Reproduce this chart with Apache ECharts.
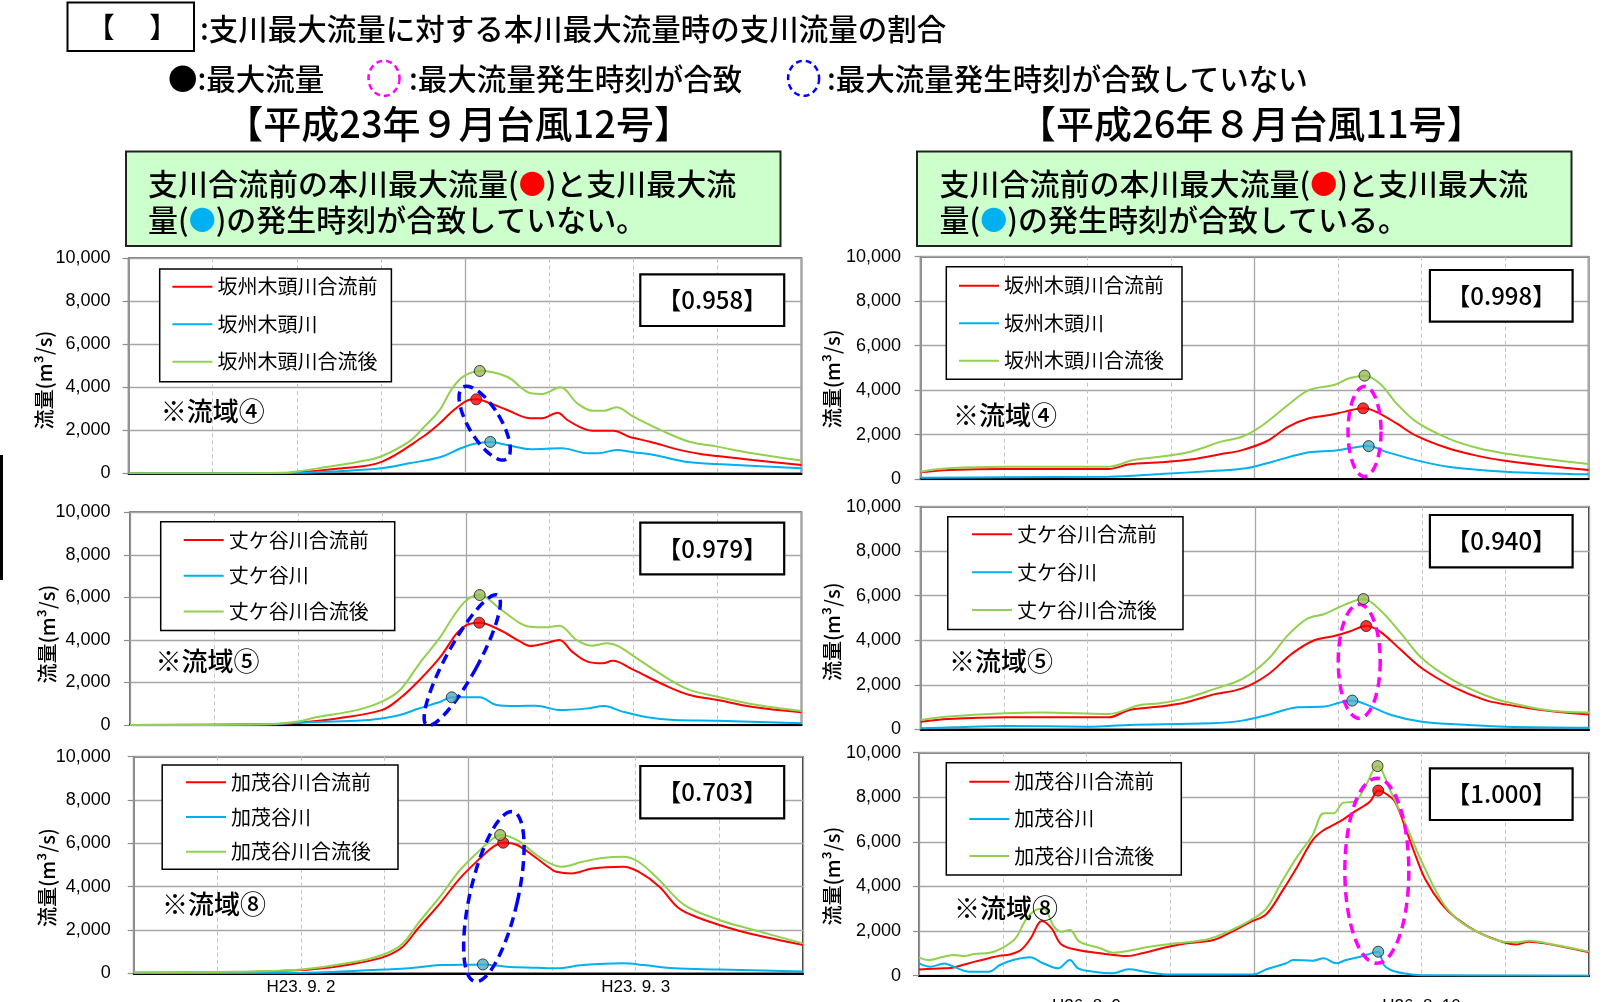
<!DOCTYPE html>
<html><head><meta charset="utf-8">
<script src="https://cdn.jsdelivr.net/npm/echarts@6/dist/echarts.min.js"></script>
<style>html,body{margin:0;padding:0;background:#fff}#c{width:1605px;height:1002px}</style>
</head><body><div id="c"></div><script>
// ---------------- DATA ----------------
const yTicks = [0, 2000, 4000, 6000, 8000, 10000];
const xLabelsH23 = {12: 'H23. 9. 2', 36: 'H23. 9. 3'};
const xLabelsH26 = {12: 'H26. 8. 9', 36: 'H26. 8. 10'};
const namesP4 = ['坂州木頭川合流前', '坂州木頭川', '坂州木頭川合流後'];
const namesP5 = ['丈ケ谷川合流前', '丈ケ谷川', '丈ケ谷川合流後'];
const namesP8 = ['加茂谷川合流前', '加茂谷川', '加茂谷川合流後'];
const ratios = ['0.958', '0.979', '0.703', '0.998', '0.940', '1.000'];
const areaLabels = ['※流域④', '※流域⑤', '※流域⑧', '※流域④', '※流域⑤', '※流域⑧'];

// [hour from left edge, m3/s]
const h23p4Before = [[0,0],[6,0],[10,10],[12,40],[15,220],[18,520],[21,1700],[22.2,2330],[23.2,2940],[24.15,3380],[24.8,3440],[25.8,3256],[27,2944],[28.7,2558],[29.5,2560],[30.6,2820],[31.3,2480],[32.4,2090],[33.1,1980],[34.6,1980],[35.7,1700],[37.2,1470],[39.3,1090],[40.8,900],[42,800],[44.5,620],[48,390]];
const h23p4Trib = [[0,0],[12,20],[15,100],[18,230],[20,465],[22.2,744],[23.7,1163],[24.6,1363],[25.8,1460],[27,1316],[28.7,1116],[30.9,1160],[32.8,930],[33.5,930],[34.8,1085],[36,980],[37.5,850],[39.7,540],[42,430],[48,230]];
const h23p4After = [[0,0],[6,0],[11,20],[12,80],[14,280],[16.4,540],[18,780],[20,1470],[21,2100],[22.2,2950],[23,3870],[23.7,4420],[24.3,4650],[25.05,4760],[27,4490],[28.7,3720],[29.5,3690],[30.8,4000],[32,3260],[33.1,2910],[33.9,2910],[34.8,3070],[36,2640],[38.2,1940],[40,1470],[42,1240],[44.5,930],[48,590]];
const h23p4Peaks = [[24.8,3440],[25.8,1460],[25.05,4760]];

const h23p5Before = [[0,0],[10,30],[12,110],[14.8,310],[18,700],[19.3,1254],[20.7,2116],[22.2,3211],[23.35,4311],[24.07,4701],[24.97,4810],[26.45,4466],[27.9,3916],[28.6,3714],[29.7,3840],[30.7,4000],[31.6,3450],[32.7,2980],[33.8,2900],[34.5,3020],[36,2590],[38.2,1880],[40,1410],[42,1175],[44.4,860],[48,600]];
const h23p5Trib = [[0,0],[10,30],[12,110],[16.2,200],[18,310],[19.3,470],[20.7,785],[22.2,1096],[23,1302],[24.07,1302],[25,1302],[26.2,940],[27.6,893],[29,910],[30.8,700],[32.7,780],[33.9,890],[35.2,630],[37,360],[38.9,235],[42,200],[48,80]];
const h23p5After = [[0,0],[10,40],[12,160],[13.3,360],[16.2,700],[18,1100],[19.3,1646],[20.7,2900],[22.2,4151],[23.1,5091],[24.07,5877],[25,6110],[26.4,5486],[27.9,4781],[28.6,4622],[29.7,4590],[30.7,4670],[31.9,4000],[33,3730],[34.1,3840],[34.9,3710],[36.4,3060],[38.6,2120],[40,1650],[42,1330],[44.4,990],[48,660]];
const h23p5Peaks = [[24.97,4810],[23,1302],[25,6110]];

const h23p8Before = [[0,30],[6,40],[12,150],[14.2,280],[16,460],[18,770],[19.3,1230],[20.4,2080],[21.97,3232],[23.4,4386],[24.84,5309],[25.8,5845],[26.5,6030],[27.5,5923],[28.9,5309],[29.86,4848],[30.3,4690],[31.4,4610],[32.9,4840],[35.1,4920],[36.2,4690],[37.7,4000],[39.1,3000],[40.6,2540],[42,2230],[44.3,1810],[48,1310]];
const h23p8Trib = [[0,10],[12,30],[18,180],[19.7,230],[21.2,340],[22,383],[23.4,390],[25.04,410],[26.76,305],[28.9,260],[30.3,230],[32.2,380],[35.1,460],[36.6,380],[38.8,230],[42,180],[48,80]];
const h23p8After = [[0,40],[6,60],[12,180],[16,540],[18,890],[19.3,1380],[20.4,2310],[21.97,3537],[23.4,4769],[24.84,5692],[25.8,6233],[26.28,6385],[27.5,6154],[28.9,5462],[29.86,5078],[30.7,4920],[32.2,5150],[33.6,5320],[35.1,5380],[36.2,5150],[37.7,4300],[39.5,3150],[42,2460],[44.3,2030],[48,1380]];
const h23p8Peaks = [[26.5,6030],[25.04,410],[26.28,6385]];

const h26p4Before = [[0,300],[2,400],[6.1,450],[13.5,450],[15,660],[17.2,750],[19.4,880],[21.6,1120],[23.1,1300],[24.9,1710],[26.4,2350],[27.9,2730],[29.4,2880],[30.5,3030],[31.8,3180],[32.7,3030],[34.2,2500],[35.6,1950],[37.9,1380],[40.1,1030],[42,820],[44.9,600],[48,400]];
const h26p4Trib = [[0,60],[6,80],[13.5,100],[17.2,220],[20.9,360],[23.4,480],[25.3,780],[27.9,1200],[29.7,1270],[30.8,1380],[32.2,1480],[33.4,1230],[35.6,850],[37.9,550],[42,330],[48,210]];
const h26p4After = [[0,330],[2,480],[6.1,550],[13.5,550],[15.3,850],[17.2,1000],[19.4,1230],[21.6,1680],[23.1,1900],[24.6,2430],[26.4,3330],[27.9,4000],[29.7,4230],[30.8,4530],[31.9,4650],[33,4300],[34.2,3400],[35.6,2580],[37.9,1830],[40.1,1380],[42,1150],[44.9,900],[48,670]];
const h26p4Peaks = [[31.8,3180],[32.2,1480],[31.9,4650]];

const h26p5Before = [[0,340],[2,460],[6.1,540],[13.5,540],[15,870],[17.2,1020],[19,1200],[20.9,1540],[23.1,1840],[24.9,2440],[26.7,3410],[28.2,3980],[29.7,4190],[30.8,4390],[32,4640],[33,4390],[34.5,3560],[36,2740],[38.2,1920],[40.5,1320],[42,1120],[44.9,840],[48,660]];
const h26p5Trib = [[0,45],[2.4,90],[6.1,150],[12,120],[13.5,150],[15,195],[20.9,270],[23.1,390],[24.9,640],[27.1,990],[29,1020],[30.1,1200],[31,1290],[31.9,1140],[33.8,640],[36,340],[39.3,195],[42,120],[48,75]];
const h26p5After = [[0,420],[2,570],[6.1,720],[8.7,760],[13.5,690],[15.7,1080],[17.2,1170],[19,1390],[20.9,1770],[23.1,2260],[24.9,3110],[26.4,4240],[27.8,4980],[29,5180],[30.4,5580],[31.8,5850],[33,5360],[34.5,4310],[36,3190],[38.2,2220],[40.5,1540],[42,1240],[44.9,870],[48,750]];
const h26p5Peaks = [[32,4640],[31,1290],[31.8,5850]];

const h26p8Before = [[0,280],[1.8,330],[2.5,370],[4,630],[5,780],[5.8,900],[6.5,950],[7.3,1150],[8,1670],[8.8,2450],[9.5,2120],[10.2,1400],[11.4,1150],[13,1004],[14.9,883],[16,1004],[17.7,1273],[19.2,1453],[21.1,1600],[22.4,1970],[23.8,2420],[24.9,2770],[26,3770],[27.1,4890],[28.2,6080],[29,6530],[29.7,6760],[30.4,7010],[31.2,7360],[32.3,7800],[32.9,8300],[33.4,8180],[34.1,7800],[34.9,6530],[35.6,5340],[36.3,4290],[37.4,3240],[38.5,2570],[40,1970],[41.9,1500],[42.8,1400],[43.7,1520],[44.8,1450],[48,1050]];
const h26p8Trib = [[0,550],[0.8,400],[1.8,550],[2.5,400],[3.6,180],[5,180],[5.8,480],[6.75,700],[7.95,825],[8.9,556],[9.98,332],[10.8,704],[11.4,332],[12.5,180],[13.9,108],[15,287],[16.3,166],[18,50],[23.95,60],[24.9,287],[26.3,556],[26.8,704],[28.2,673],[29,780],[29.9,556],[30.6,704],[31.6,852],[32.4,1000],[32.9,1076],[33.3,480],[33.8,256],[34.7,108],[36,20],[48,0]];
const h26p8After = [[0,820],[0.66,700],[1.76,850],[2.5,930],[3.24,880],[3.97,970],[5.07,1030],[5.99,1250],[6.91,1670],[7.65,2500],[8.38,2950],[8.93,3000],[9.67,2200],[10.2,1970],[10.8,2050],[11.5,1525],[13,1228],[13.9,1031],[15.3,1152],[16.3,1273],[18,1421],[19.6,1525],[20.9,1670],[22.4,2050],[23.8,2500],[24.9,3020],[26,4220],[27.1,5340],[28.2,6310],[29,7280],[29.7,7280],[30.4,7760],[31.2,7800],[31.9,8400],[32.85,9400],[33.75,8330],[34.85,6830],[35.96,5190],[37.4,3390],[38.5,2570],[40,1970],[41.9,1520],[42.9,1500],[43.7,1570],[44.8,1480],[48,1080]];
const h26p8Peaks = [[32.9,8300],[32.9,1076],[32.85,9400]];

// centres of the highlight ellipses, in data coordinates [hour, m3/s]
const ellipseCenters = [[25.4,2330],[23.75,3050],[25.83,3540],[31.9,2137],[31.5,3055],[32.8,4704]];

// ---------------- STYLE / LAYOUT ----------------
const JP = '"Noto Sans CJK JP", "Noto Sans", sans-serif';
const NUM = '"Liberation Sans", Arial, sans-serif';
const lineColors = ['#ff0000', '#00b0f0', '#92d050'];
const markerColors = ['#ff0000', '#4bacc6', '#9bbb59'];

const panels = [
  {b:h23p4Before, t:h23p4Trib, a:h23p4After, p:h23p4Peaks, n:namesP4, xl:null},
  {b:h23p5Before, t:h23p5Trib, a:h23p5After, p:h23p5Peaks, n:namesP5, xl:null},
  {b:h23p8Before, t:h23p8Trib, a:h23p8After, p:h23p8Peaks, n:namesP8, xl:xLabelsH23},
  {b:h26p4Before, t:h26p4Trib, a:h26p4After, p:h26p4Peaks, n:namesP4, xl:null},
  {b:h26p5Before, t:h26p5Trib, a:h26p5After, p:h26p5Peaks, n:namesP5, xl:null},
  {b:h26p8Before, t:h26p8Trib, a:h26p8After, p:h26p8Peaks, n:namesP8, xl:xLabelsH26}
];
const layout = [
  {g:[128.6,258.3,672.9,215],   lg:[159.7,269,[7.7,14,10,12.7],17.5],  r:[640.3,274.3,143.9,51.7], ar:[160.7,411], yn:[44.6,380],  lm:18,   xm:6,  e:{a:42,b:16,deg:-31,c:'#0000ff'}},
  {g:[130,512.3,671.5,212.7],   lg:[160.7,521.7,[8.3,26,9,23],15.8],   r:[640.3,522.7,143.9,51.6], ar:[155.6,661], yn:[47,634],    lm:19.5, xm:6,  e:{a:74,b:16,deg:28.6,c:'#0000ff'}},
  {g:[133.7,756.7,669.3,216.6], lg:[162.2,765,[7.3,27,7.6,23.8],14.7], r:[640.3,766,143.9,52.3],   ar:[162,904],   yn:[47,877.5],  lm:23,   xm:6,  e:{a:87,b:24,deg:12.7,c:'#0000ff'}},
  {g:[920.6,256.7,668,222.3],   lg:[946.3,266.7,[9,18,8.6,12.7],17.5], r:[1429.9,270,142.7,51.7],  ar:[953,415],   yn:[832,378.8], lm:19.5, xm:6,  e:{a:45,b:16.5,deg:0,c:'#ff00ff'}},
  {g:[920.6,506.7,668.4,222.6], lg:[947.8,516.7,[7.6,26,9.3,24.2],17.9],r:[1429.9,515,142.7,52.3], ar:[949,661],   yn:[832,631.7], lm:19.5, xm:6,  e:{a:57,b:21,deg:0,c:'#ff00ff'}},
  {g:[919,752.7,670,223],       lg:[946.3,762.7,[9,27,9,23],17.2],     r:[1429.9,768.3,142.7,51.7],ar:[954,908],   yn:[832,876],   lm:18,   xm:22, e:{a:92.5,b:32,deg:0,c:'#ff00ff'}}
];

const grids = [], xAxes = [], yAxes = [], series = [], legends = [];
panels.forEach((P, i) => {
  const L = layout[i];
  grids.push({left:L.g[0], top:L.g[1], width:L.g[2], height:L.g[3], show:true, backgroundColor:'#fff',
    borderColor:'#000', borderWidth:1.5, containLabel:false, outerBoundsMode:'none'});
  const xl = P.xl;
  xAxes.push({type:'value', gridIndex:i, min:0, max:48, interval:6,
    axisLine:{show:true, onZero:false, lineStyle:{color:'#000', width:2}}, axisTick:{show:false},
    splitLine:{show:true, lineStyle:{color:'#c4c4c4', type:[4,3], width:1}},
    axisLabel:{show:!!xl, margin:L.xm, color:'#000', fontSize:17, fontFamily:NUM,
      formatter: v => (xl && xl[v]) ? xl[v] : ''}});
  xAxes.push({type:'value', gridIndex:i, min:0, max:48, interval:24, position:'bottom',
    axisLine:{show:false}, axisTick:{show:false}, axisLabel:{show:false},
    splitLine:{show:true, lineStyle:{color:'#a6a6a6', width:1.3}}});
  yAxes.push({type:'value', gridIndex:i, min:yTicks[0], max:yTicks[yTicks.length-1], interval:yTicks[1]-yTicks[0],
    axisLine:{show:true, lineStyle:{color:'#8c8c8c', width:1.5}},
    axisTick:{show:true, length:6, lineStyle:{color:'#8c8c8c', width:1.2}},
    splitLine:{show:true, lineStyle:{color:'#a6a6a6', width:1.3}},
    axisLabel:{margin:L.lm, color:'#000', fontSize:18, fontFamily:NUM,
      formatter: v => Number(v).toLocaleString('en-US')}});
  [P.b, P.t, P.a].forEach((d, k) => {
    series.push({type:'line', name:P.n[k], xAxisIndex:2*i, yAxisIndex:i, data:d,
      symbol:'none', showSymbol:false, smooth:0.35, silent:true,
      color:lineColors[k], lineStyle:{color:lineColors[k], width:2}, z:2});
  });
  series.push({type:'scatter', xAxisIndex:2*i, yAxisIndex:i, silent:true, symbolSize:11, z:6,
    data: P.p.map((v, k) => ({value:v, itemStyle:{color:markerColors[k], borderColor:'#1a1a1a', borderWidth:1}}))});
  legends.push({show:true, orient:'vertical', left:L.lg[0], top:L.lg[1], padding:L.lg[2], itemGap:L.lg[3],
    data:P.n.slice(), icon:'rect', itemWidth:40, itemHeight:2, itemStyle:{borderWidth:0},
    borderColor:'#000', borderWidth:1.5, backgroundColor:'#fff', borderRadius:0, selectedMode:false,
    textStyle:{fontSize:20, fontFamily:JP, color:'#000', lineHeight:20}});
});

const chart = echarts.init(document.getElementById('c'), null, {renderer:'canvas', width:1605, height:1002});
chart.setOption({animation:false, backgroundColor:'#fff', grid:grids, xAxis:xAxes, yAxis:yAxes, series:series, legend:legends});

function ellipsePts(cx, cy, a, b, deg) {
  const phi = deg * Math.PI / 180, pts = [];
  for (let k = 0; k < 96; k++) {
    const t = k / 96 * 2 * Math.PI, ex = b * Math.cos(t), ey = a * Math.sin(t);
    pts.push([cx + ex * Math.cos(phi) - ey * Math.sin(phi), cy + ex * Math.sin(phi) + ey * Math.cos(phi)]);
  }
  return pts;
}
function txt(x, y, text, size, align, extra, weight) {
  return Object.assign({type:'text', x:x, y:y, silent:true, z:20,
    style:{text:text, fontSize:size, fontFamily:JP, fontWeight:weight || 'normal', fill:'#000', align:align || 'left', verticalAlign:'middle'}}, extra || {});
}

const G = [];
// header
G.push({type:'rect', shape:{x:67.5, y:2.5, width:126.5, height:48.5}, style:{fill:'none', stroke:'#000', lineWidth:2}, silent:true, z:20});
G.push(txt(132, 27.5, '【　 】', 28, 'center', null, 500));
G.push(txt(200, 29, ':支川最大流量に対する本川最大流量時の支川流量の割合', 29.5, 'left', null, 500));
G.push(txt(168, 78.5, '●:最大流量', 29.5, 'left', null, 500));
G.push({type:'polygon', shape:{points:ellipsePts(384, 78.3, 17.5, 15.5, 0)}, style:{fill:'none', stroke:'#ff00ff', lineWidth:2.5, lineDash:[6,4]}, silent:true, z:20});
G.push(txt(409, 78.5, ':最大流量発生時刻が合致', 29.5, 'left', null, 500));
G.push({type:'polygon', shape:{points:ellipsePts(803.6, 78.3, 17.5, 15.5, 0)}, style:{fill:'none', stroke:'#0000ff', lineWidth:2.5, lineDash:[6,4]}, silent:true, z:20});
G.push(txt(827, 78.5, ':最大流量発生時刻が合致していない', 29.5, 'left', null, 500));
G.push(txt(458.6, 124, '【平成23年９月台風12号】', 38, 'center', null, 500));
G.push(txt(1251.3, 124, '【平成26年８月台風11号】', 38, 'center', null, 500));
// green boxes
const richDots = {r:{fill:'#ff0000', fontSize:27, fontFamily:JP}, b:{fill:'#00b0f0', fontSize:27, fontFamily:JP}};
[[126,151.5,148],[917,151.5,939.6]].forEach((bx, j) => {
  G.push({type:'rect', shape:{x:bx[0], y:bx[1], width:654.5, height:94.5}, style:{fill:'#ccffcc', stroke:'#222', lineWidth:2}, silent:true, z:19});
  const l1 = '支川合流前の本川最大流量({r|●})と支川最大流';
  G.push({type:'text', x:bx[2], y:183.5, silent:true, z:20, style:{text:l1, fontSize:30, fontFamily:JP, fontWeight:500, fill:'#000', align:'left', verticalAlign:'middle', rich:richDots}});
  const l2 = j === 0 ? '量({b|●})の発生時刻が合致していない。' : '量({b|●})の発生時刻が合致している。';
  G.push({type:'text', x:bx[2], y:220, silent:true, z:20, style:{text:l2, fontSize:30, fontFamily:JP, fontWeight:500, fill:'#000', align:'left', verticalAlign:'middle', rich:richDots}});
});
// per-panel annotations
layout.forEach((L, i) => {
  G.push({type:'rect', shape:{x:L.r[0], y:L.r[1], width:L.r[2], height:L.r[3]}, style:{fill:'#fff', stroke:'#000', lineWidth:2.2}, silent:true, z:20});
  G.push(txt(L.r[0] + L.r[2] / 2, L.r[1] + L.r[3] / 2, '【' + ratios[i] + '】', 24, 'center', {z:21}, 500));
  G.push(txt(L.ar[0], L.ar[1], areaLabels[i], 26, 'left', {z:21}, 500));
  G.push(txt(L.yn[0], L.yn[1], '流量(m³/s)', 20, 'center', {rotation:Math.PI / 2, z:21}, 500));
  const c = chart.convertToPixel({gridIndex:i}, ellipseCenters[i]);
  G.push({type:'polygon', shape:{points:ellipsePts(c[0], c[1], L.e.a, L.e.b, L.e.deg)},
    style:{fill:'none', stroke:L.e.c, lineWidth:3.5, lineDash:[10,6]}, silent:true, z:5});
});
// left edge bar
G.push({type:'rect', shape:{x:0, y:455, width:3, height:125}, style:{fill:'#000'}, silent:true, z:20});

chart.setOption({graphic:{elements:G}});
</script></body></html>
